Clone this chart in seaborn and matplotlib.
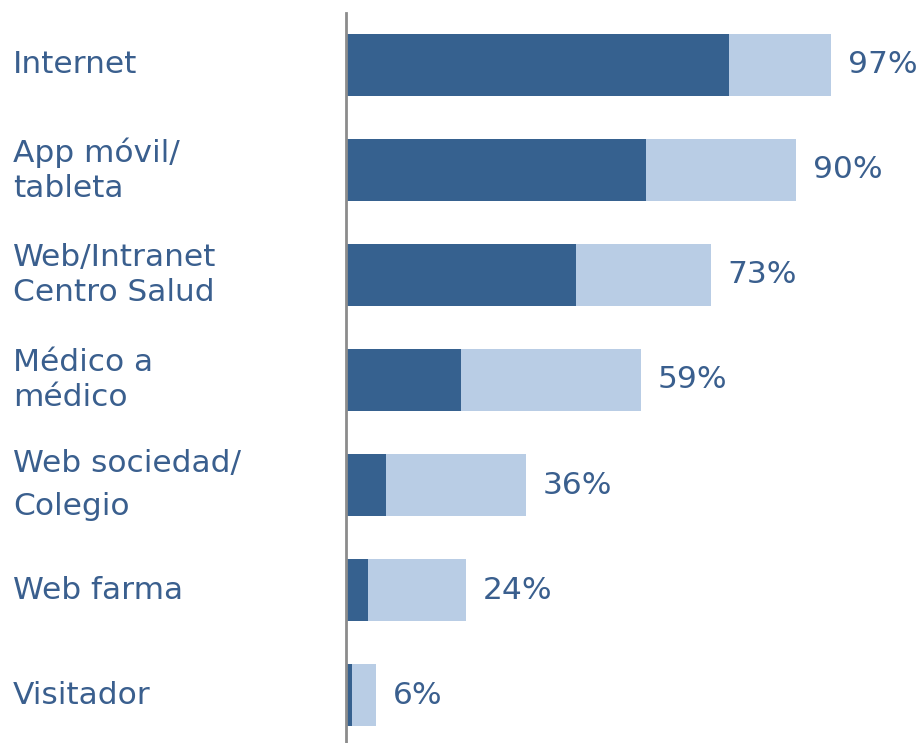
import matplotlib
matplotlib.use("Agg")
import matplotlib.pyplot as plt
import seaborn as sns
import pandas as pd

# data
categories = ["Internet", "App móvil/\ntableta", "Web/Intranet\nCentro Salud",
              "Médico a\nmédico", "Web sociedad/\nColegio", "Web farma", "Visitador"]
total = [97, 90, 73, 59, 36, 24, 6]
dark_part = [76.5, 60, 46, 23, 8, 4.4, 1.2]
pct_labels = ["97%", "90%", "73%", "59%", "36%", "24%", "6%"]

dark = "#36618f"
light = "#b9cde5"
txt = "#3a5f8e"

df = pd.DataFrame({"cat": categories, "total": total, "dark": dark_part})

sns.set_style("white")
plt.rcParams["font.family"] = ["DejaVu Sans"]

fig = plt.figure(figsize=(9.24, 7.43), dpi=100)
ax = fig.add_axes([346 / 924, 0, 578 / 924, 730 / 743])

sns.barplot(data=df, x="total", y="cat", orient="h", color=light,
            width=0.59, saturation=1, linewidth=0, ax=ax)
sns.barplot(data=df, x="dark", y="cat", orient="h", color=dark,
            width=0.59, saturation=1, linewidth=0, ax=ax)

ax.set_xlim(0, 115.6)
ax.set_ylim(6.457, -0.495)
ax.set_xlabel("")
ax.set_ylabel("")
ax.set_xticks([])
ax.set_yticks([])
for s in ["top", "right", "bottom"]:
    ax.spines[s].set_visible(False)
ax.spines["left"].set_color("#8c8c8c")
ax.spines["left"].set_linewidth(2)

# category labels, left aligned at the figure edge
x_lab = (13 - 346) / 578
for i, c in enumerate(categories):
    ls = 1.6 if "sociedad" in c else 1.25
    ax.text(x_lab, i, c, transform=ax.get_yaxis_transform(), ha="left",
            va="center", fontsize=22.5, color=txt, linespacing=ls)

# total labels
for i, (t, lab) in enumerate(zip(total, pct_labels)):
    ax.annotate(lab, (t, i), xytext=(12, 0), textcoords="offset points",
                ha="left", va="center", fontsize=22.5, color=txt)

fig.savefig("out.png", dpi=100)
